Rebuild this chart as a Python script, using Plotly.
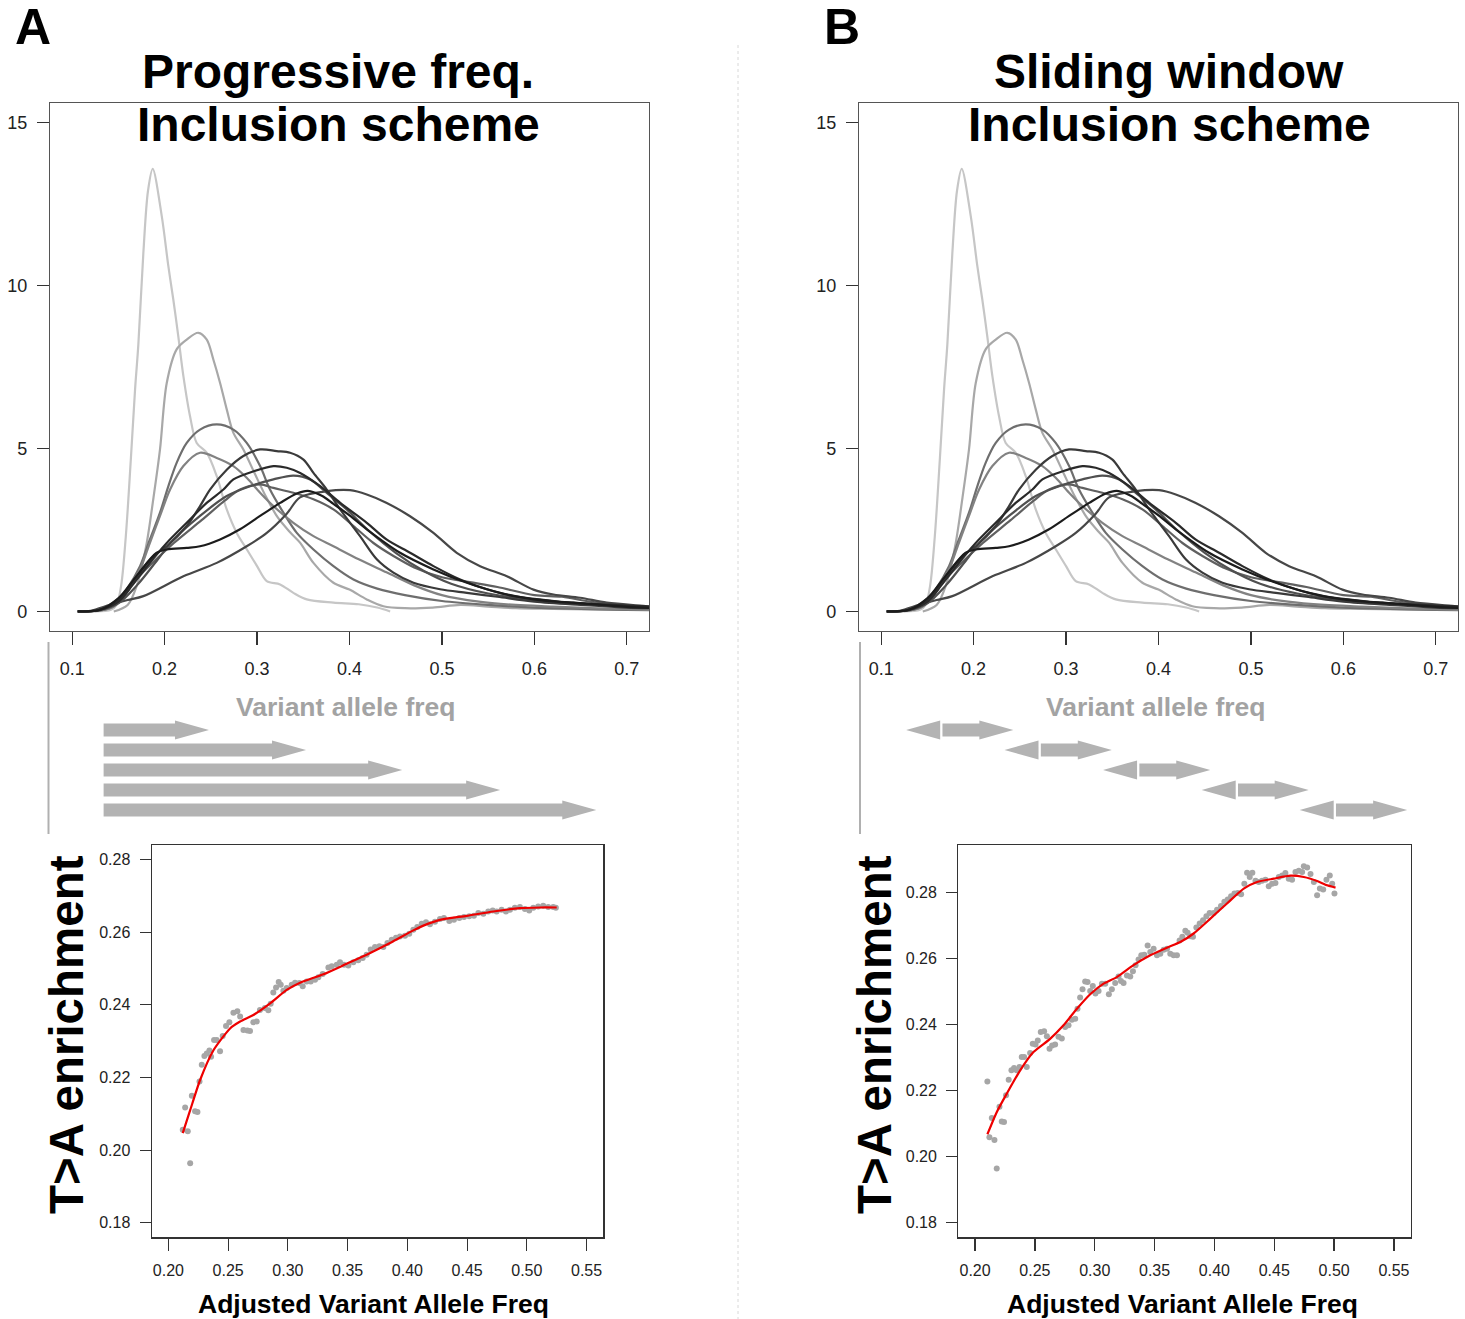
import plotly.graph_objects as go

W, H = 1465, 1319
FONT = "Liberation Sans, Arial, Helvetica, sans-serif"


def px(x):
    return x / W


def py(y):
    return 1 - y / H


# ---------------- density curves (Variant allele freq) ----------------
c1_x = [0.125, 0.142, 0.148, 0.153, 0.158, 0.1633, 0.168, 0.1716, 0.177, 0.182, 0.1871, 0.1969, 0.204, 0.2094,
        0.2148, 0.2203, 0.2275, 0.2347, 0.2455, 0.2564, 0.2672, 0.278, 0.289, 0.30, 0.3105, 0.3249, 0.3393,
        0.3538, 0.3826, 0.41, 0.43, 0.444]
c1_y = [0.0, 0.05, 0.2, 0.8, 2.3, 4.6, 6.8, 8.2, 11.0, 12.9, 13.58, 12.13, 10.6, 9.57,
        8.44, 7.22, 5.99, 5.17, 4.87, 4.15, 3.13, 2.41, 1.9, 1.39, 0.93, 0.83, 0.57,
        0.37, 0.27, 0.22, 0.12, 0.0]

c2_x = [0.145, 0.16, 0.17, 0.18, 0.188, 0.195, 0.2023, 0.213, 0.2239, 0.2365, 0.2456, 0.2527, 0.26, 0.2672,
        0.2744, 0.2852, 0.298, 0.31, 0.322, 0.335, 0.3465, 0.361, 0.3826, 0.40, 0.4187, 0.4367, 0.46, 0.49,
        0.52, 0.55, 0.58, 0.62, 0.66, 0.70, 0.724]
c2_y = [0.0, 0.2, 0.8, 2.0, 3.5, 4.97, 7.01, 8.04, 8.34, 8.55, 8.34, 7.73, 7.01, 6.2,
        5.48, 4.97, 4.2, 3.5, 2.9, 2.45, 2.11, 1.49, 0.88, 0.67, 0.37, 0.16, 0.1, 0.12,
        0.2, 0.15, 0.1, 0.08, 0.06, 0.05, 0.05]

c3_x = [0.11, 0.13, 0.1445, 0.159, 0.1734, 0.184, 0.195, 0.204, 0.213, 0.2239, 0.2383, 0.2564, 0.2744, 0.2888,
        0.3033, 0.314, 0.3285, 0.343, 0.361, 0.3826, 0.4043, 0.43, 0.46, 0.50, 0.55, 0.60, 0.65, 0.70, 0.724]
c3_y = [0.0, 0.03, 0.16, 0.68, 1.39, 2.2, 3.03, 3.84, 4.56, 5.17, 5.58, 5.74, 5.58, 5.17,
        4.46, 3.74, 3.03, 2.41, 1.9, 1.39, 0.98, 0.7, 0.5, 0.32, 0.2, 0.12, 0.08, 0.05, 0.04]

c4_x = [0.11, 0.13, 0.145, 0.159, 0.1734, 0.184, 0.195, 0.2059, 0.2203, 0.2383, 0.2564, 0.2744, 0.2888, 0.3033,
        0.3177, 0.3393, 0.361, 0.3826, 0.41, 0.44, 0.47, 0.50, 0.54, 0.58, 0.62, 0.66, 0.70, 0.724]
c4_y = [0.0, 0.03, 0.15, 0.57, 1.29, 2.1, 2.93, 3.74, 4.46, 4.87, 4.71, 4.46, 4.1, 3.64,
        3.23, 2.72, 2.31, 2.0, 1.6, 1.2, 0.8, 0.5, 0.3, 0.2, 0.15, 0.1, 0.07, 0.05]

c5_x = [0.106, 0.13, 0.15, 0.165, 0.18, 0.19, 0.2023, 0.2239, 0.2383, 0.2491, 0.2672, 0.2852, 0.3033, 0.3213,
        0.3357, 0.3502, 0.361, 0.3754, 0.3899, 0.4114, 0.4295, 0.4475, 0.4692, 0.498, 0.527, 0.56, 0.60,
        0.65, 0.70, 0.724]
c5_y = [0.0, 0.05, 0.35, 0.9, 1.45, 1.75, 2.0, 2.62, 3.23, 3.74, 4.35, 4.77, 4.97, 4.92,
        4.87, 4.66, 4.25, 3.74, 3.13, 2.31, 1.6, 1.19, 0.88, 0.68, 0.57, 0.45, 0.3,
        0.2, 0.12, 0.1]

c6_x = [0.106, 0.13, 0.15, 0.165, 0.18, 0.2023, 0.2239, 0.2455, 0.2636, 0.2744, 0.2961, 0.3177, 0.3321, 0.3466,
        0.368, 0.39, 0.4187, 0.44, 0.4655, 0.4908, 0.5197, 0.5485, 0.5774, 0.606, 0.635, 0.671, 0.70, 0.724]
c6_y = [0.0, 0.05, 0.3, 0.8, 1.35, 2.1, 2.72, 3.33, 3.74, 4.05, 4.3, 4.46, 4.41, 4.25,
        3.85, 3.33, 2.72, 2.21, 1.8, 1.39, 0.98, 0.68, 0.47, 0.37, 0.27, 0.22, 0.18, 0.16]

c7_x = [0.106, 0.13, 0.15, 0.17, 0.19, 0.2095, 0.2383, 0.2672, 0.2924, 0.3177, 0.3393, 0.3574, 0.3754, 0.397,
        0.42, 0.45, 0.48, 0.51, 0.55, 0.60, 0.65, 0.70, 0.724]
c7_y = [0.0, 0.04, 0.25, 0.8, 1.5, 2.2, 2.93, 3.54, 3.84, 4.05, 4.17, 4.05, 3.64, 3.13,
        2.5, 1.8, 1.25, 0.85, 0.55, 0.35, 0.25, 0.15, 0.12]

c8_x = [0.106, 0.13, 0.15, 0.17, 0.1914, 0.2023, 0.2239, 0.2383, 0.26, 0.2816, 0.3033, 0.325, 0.343, 0.355,
        0.37, 0.3826, 0.40, 0.4187, 0.4547, 0.4908, 0.527, 0.563, 0.599, 0.6423, 0.70, 0.724]
c8_y = [0.0, 0.05, 0.4, 1.1, 1.8, 1.9, 1.95, 2.0, 2.21, 2.52, 2.93, 3.33, 3.62, 3.7,
        3.55, 3.3, 2.95, 2.52, 1.8, 1.29, 0.88, 0.57, 0.37, 0.27, 0.14, 0.11]

c9_x = [0.106, 0.12, 0.141, 0.16, 0.177, 0.2203, 0.2564, 0.2888, 0.3105, 0.3321, 0.3465, 0.3754, 0.4006, 0.4187,
        0.4403, 0.4655, 0.4908, 0.516, 0.5413, 0.5702, 0.599, 0.6207, 0.6495, 0.6784, 0.7217, 0.724]
c9_y = [0.0, 0.02, 0.2, 0.35, 0.47, 1.08, 1.49, 2.0, 2.41, 3.0, 3.5, 3.69, 3.72, 3.59,
        3.33, 2.92, 2.41, 1.8, 1.39, 1.08, 0.67, 0.52, 0.42, 0.27, 0.16, 0.15]

c10_x = [0.106, 0.13, 0.15, 0.18, 0.21, 0.24, 0.265, 0.2816, 0.3033, 0.3177, 0.3393, 0.361, 0.3826, 0.4043,
         0.4259, 0.4476, 0.47, 0.50, 0.53, 0.56, 0.60, 0.63, 0.66, 0.70, 0.724]
c10_y = [0.0, 0.05, 0.4, 1.3, 2.1, 2.8, 3.4, 3.74, 3.9, 3.79, 3.64, 3.44, 3.13, 2.62,
         2.1, 1.7, 1.35, 1.05, 0.9, 0.75, 0.5, 0.45, 0.3, 0.15, 0.12]

curve_xs = [c1_x, c2_x, c3_x, c4_x, c10_x, c9_x, c7_x, c5_x, c6_x, c8_x]
curve_ys = [c1_y, c2_y, c3_y, c4_y, c10_y, c9_y, c7_y, c5_y, c6_y, c8_y]
curve_colors = ["#c6c6c6", "#a8a8a8", "#6e6e6e", "#828282", "#606060", "#474747", "#505050", "#3a3a3a",
                "#2a2a2a", "#1c1c1c"]

dens_xticks = [0.1, 0.2, 0.3, 0.4, 0.5, 0.6, 0.7]
dens_xlabels = ["0.1", "0.2", "0.3", "0.4", "0.5", "0.6", "0.7"]
dens_yticks = [0, 5, 10, 15]
dens_xrange = [0.076, 0.724]
dens_yrange = [-0.6, 15.6]

# ---------------- arrows (inclusion schemes) ----------------
arrow_rows = [1, 2, 3, 4, 5]
prog_start = 0.134
prog_end = [0.248, 0.353, 0.457, 0.563, 0.667]
win_lo = [0.127, 0.2334, 0.340, 0.4467, 0.5527]
win_hi = [0.243, 0.3495, 0.456, 0.5625, 0.669]

# ---------------- T>A enrichment scatter ----------------
a_x = [0.2120, 0.2162, 0.2140, 0.2182, 0.2196, 0.2223, 0.2243, 0.2260, 0.2279, 0.2301, 0.2321, 0.2343, 0.2357,
       0.2382, 0.2404, 0.2432, 0.2454, 0.2482, 0.2510, 0.2544, 0.2577, 0.2600, 0.2628, 0.2661, 0.2683, 0.2711,
       0.2739, 0.2766, 0.2808, 0.2836, 0.2856, 0.2878, 0.2901, 0.2923, 0.2940, 0.2962, 0.2990, 0.3032, 0.3060,
       0.3096, 0.3124, 0.3158, 0.3191, 0.3227, 0.3255, 0.3291, 0.3339, 0.3367, 0.3409, 0.3436, 0.3470, 0.3506,
       0.3548, 0.3589, 0.3626, 0.3659, 0.3693, 0.3729, 0.3766, 0.3799, 0.3833, 0.3869, 0.3905, 0.3938, 0.3980,
       0.4016, 0.4050, 0.4083, 0.4120, 0.4156, 0.4189, 0.4231, 0.4273, 0.4306, 0.4351, 0.4390, 0.4435, 0.4474,
       0.4518, 0.4557, 0.4594, 0.4636, 0.4677, 0.4714, 0.4747, 0.4789, 0.4825, 0.4859, 0.4900, 0.4942, 0.4984,
       0.5020, 0.5054, 0.5095, 0.5137, 0.5179, 0.5221, 0.5243]
a_y = [0.2056, 0.2052, 0.2117, 0.1964, 0.2150, 0.2107, 0.2105, 0.2189, 0.2235, 0.2259, 0.2266, 0.2274, 0.2257,
       0.2303, 0.2303, 0.2272, 0.2314, 0.2342, 0.2352, 0.2378, 0.2382, 0.2368, 0.2331, 0.2329, 0.2328, 0.2352,
       0.2354, 0.2386, 0.2391, 0.2385, 0.2403, 0.2434, 0.2448, 0.2463, 0.2455, 0.2439, 0.2446, 0.2455, 0.2461,
       0.2460, 0.2451, 0.2464, 0.2464, 0.2469, 0.2476, 0.2485, 0.2503, 0.2506, 0.2510, 0.2517, 0.2510, 0.2508,
       0.2517, 0.2523, 0.2529, 0.2538, 0.2552, 0.2559, 0.2561, 0.2559, 0.2570, 0.2579, 0.2585, 0.2588, 0.2590,
       0.2596, 0.2607, 0.2614, 0.2623, 0.2627, 0.2622, 0.2629, 0.2636, 0.2639, 0.2631, 0.2634, 0.2639, 0.2642,
       0.2644, 0.2645, 0.2653, 0.2651, 0.2657, 0.2660, 0.2657, 0.2662, 0.2657, 0.2662, 0.2667, 0.2669, 0.2664,
       0.2660, 0.2667, 0.2671, 0.2673, 0.2669, 0.2669, 0.2667]
a_fit_x = [0.2120, 0.2182, 0.2265, 0.2377, 0.2516, 0.2600, 0.2711, 0.2851, 0.2990, 0.3102, 0.3297, 0.3492,
           0.3659, 0.3855, 0.4050, 0.4134, 0.4273, 0.4496, 0.4719, 0.4942, 0.5110, 0.5250]
a_fit_y = [0.2047, 0.2110, 0.2193, 0.2275, 0.2335, 0.2354, 0.2372, 0.2404, 0.2441, 0.2461, 0.2484, 0.2513,
           0.2538, 0.2570, 0.2605, 0.2618, 0.2634, 0.2645, 0.2657, 0.2666, 0.2668, 0.2668]

b_x = [0.2103, 0.2120, 0.2140, 0.2162, 0.2181, 0.2204, 0.2223, 0.2242, 0.2259, 0.2281, 0.2304, 0.2326, 0.2348,
       0.2371, 0.2390, 0.2410, 0.2432, 0.2460, 0.2482, 0.2505, 0.2524, 0.2549, 0.2577, 0.2600, 0.2622, 0.2644,
       0.2669, 0.2697, 0.2725, 0.2753, 0.2781, 0.2809, 0.2837, 0.2856, 0.2878, 0.2898, 0.2920, 0.2940, 0.2962,
       0.2984, 0.3006, 0.3032, 0.3060, 0.3088, 0.3118, 0.3143, 0.3171, 0.3199, 0.3219, 0.3241, 0.3269, 0.3297,
       0.3319, 0.3341, 0.3366, 0.3389, 0.3414, 0.3442, 0.3464, 0.3492, 0.3520, 0.3548, 0.3576, 0.3604, 0.3631,
       0.3659, 0.3687, 0.3709, 0.3732, 0.3757, 0.3776, 0.3799, 0.3821, 0.3849, 0.3877, 0.3905, 0.3933, 0.3960,
       0.3994, 0.4022, 0.4055, 0.4083, 0.4111, 0.4139, 0.4167, 0.4195, 0.4223, 0.4250, 0.4273, 0.4295, 0.4317,
       0.4343, 0.4370, 0.4398, 0.4426, 0.4454, 0.4482, 0.4510, 0.4538, 0.4566, 0.4593, 0.4621, 0.4649, 0.4677,
       0.4705, 0.4733, 0.4747, 0.4775, 0.4803, 0.4831, 0.4858, 0.4881, 0.4909, 0.4936, 0.4964, 0.4984, 0.5003]
b_y = [0.2228, 0.2059, 0.2117, 0.2051, 0.1964, 0.2151, 0.2107, 0.2105, 0.2186, 0.2233, 0.2262, 0.2269, 0.2262,
       0.2272, 0.2302, 0.2302, 0.2272, 0.2314, 0.2342, 0.2340, 0.2352, 0.2378, 0.2380, 0.2365, 0.2327, 0.2337,
       0.2340, 0.2363, 0.2358, 0.2393, 0.2398, 0.2415, 0.2418, 0.2448, 0.2482, 0.2507, 0.2531, 0.2529, 0.2502,
       0.2517, 0.2494, 0.2502, 0.2524, 0.2524, 0.2492, 0.2507, 0.2526, 0.2546, 0.2532, 0.2526, 0.2549, 0.2546,
       0.2562, 0.2580, 0.2597, 0.2610, 0.2612, 0.2640, 0.2620, 0.2630, 0.2610, 0.2615, 0.2627, 0.2630, 0.2615,
       0.2610, 0.2610, 0.2655, 0.2666, 0.2684, 0.2678, 0.2668, 0.2666, 0.2694, 0.2706, 0.2716, 0.2728, 0.2738,
       0.2738, 0.2748, 0.2759, 0.2772, 0.2779, 0.2789, 0.2797, 0.2799, 0.2795, 0.2827, 0.2860, 0.2847, 0.2860,
       0.2836, 0.2832, 0.2836, 0.2839, 0.2819, 0.2827, 0.2829, 0.2847, 0.2852, 0.2859, 0.2842, 0.2839, 0.2862,
       0.2866, 0.2862, 0.2880, 0.2876, 0.2856, 0.2832, 0.2792, 0.2812, 0.2809, 0.2839, 0.2852, 0.2827, 0.2797]
b_fit_x = [0.2103, 0.2181, 0.2265, 0.2376, 0.2488, 0.2627, 0.2739, 0.2851, 0.2962, 0.3074, 0.3185, 0.3324,
           0.3464, 0.3603, 0.3715, 0.3826, 0.3966, 0.4105, 0.4245, 0.4356, 0.4496, 0.4635, 0.4747, 0.4858,
           0.4942, 0.5012]
b_fit_y = [0.2068, 0.2135, 0.2191, 0.2261, 0.2317, 0.2357, 0.2398, 0.2448, 0.2492, 0.2524, 0.2544, 0.2580,
           0.2610, 0.2633, 0.2650, 0.2676, 0.2721, 0.2767, 0.2812, 0.2832, 0.2842, 0.2851, 0.2847, 0.2835,
           0.2822, 0.2815]

sc_xticks = [0.20, 0.25, 0.30, 0.35, 0.40, 0.45, 0.50, 0.55]
sc_xlabels = ["0.20", "0.25", "0.30", "0.35", "0.40", "0.45", "0.50", "0.55"]
sc_yticks = [0.18, 0.20, 0.22, 0.24, 0.26, 0.28]
sc_ylabels = ["0.18", "0.20", "0.22", "0.24", "0.26", "0.28"]
sc_xrange = [0.186, 0.564]
a_yrange = [0.176, 0.284]
b_yrange = [0.1756, 0.2944]

# ================= figure =================
fig = go.Figure()

for xa, ya in (("x", "y"), ("x2", "y2")):
    for cx, cy, col in zip(curve_xs, curve_ys, curve_colors):
        fig.add_trace(go.Scatter(x=cx, y=cy, mode="lines", xaxis=xa, yaxis=ya,
                                 line=dict(color=col, width=2.2, shape="spline", smoothing=0.9),
                                 showlegend=False, hoverinfo="skip"))

# arrows
ARROW_COL = "#b3b3b3"
HEAD = 0.0368
BODY_H = 0.33
HEAD_H = 0.48


def right_arrow(x0, x1, r):
    xb = x1 - HEAD
    xs = [x0, xb, xb, x1, xb, xb, x0, x0]
    ys = [r - BODY_H, r - BODY_H, r - HEAD_H, r, r + HEAD_H, r + BODY_H, r + BODY_H, r - BODY_H]
    return xs, ys


def left_head(x0, r):
    xb = x0 + HEAD
    return [x0, xb, xb, x0], [r, r - HEAD_H, r + HEAD_H, r]


for r, xe in zip(arrow_rows, prog_end):
    xs, ys = right_arrow(prog_start, xe, r)
    fig.add_trace(go.Scatter(x=xs, y=ys, mode="lines", fill="toself", fillcolor=ARROW_COL,
                             line=dict(width=0, color=ARROW_COL), xaxis="x5", yaxis="y5",
                             showlegend=False, hoverinfo="skip"))

for r, lo, hi in zip(arrow_rows, win_lo, win_hi):
    xs, ys = left_head(lo, r)
    fig.add_trace(go.Scatter(x=xs, y=ys, mode="lines", fill="toself", fillcolor=ARROW_COL,
                             line=dict(width=0, color=ARROW_COL), xaxis="x6", yaxis="y6",
                             showlegend=False, hoverinfo="skip"))
    xs, ys = right_arrow(lo + HEAD + 0.0025, hi, r)
    fig.add_trace(go.Scatter(x=xs, y=ys, mode="lines", fill="toself", fillcolor=ARROW_COL,
                             line=dict(width=0, color=ARROW_COL), xaxis="x6", yaxis="y6",
                             showlegend=False, hoverinfo="skip"))

# scatter panels
for xa, ya, sx, sy, fx, fy in (("x3", "y3", a_x, a_y, a_fit_x, a_fit_y),
                               ("x4", "y4", b_x, b_y, b_fit_x, b_fit_y)):
    fig.add_trace(go.Scatter(x=sx, y=sy, mode="markers", xaxis=xa, yaxis=ya,
                             marker=dict(color="#a6a6a6", size=6, line=dict(width=0)),
                             showlegend=False, hoverinfo="skip"))
    fig.add_trace(go.Scatter(x=fx, y=fy, mode="lines", xaxis=xa, yaxis=ya,
                             line=dict(color="#ee0000", width=2.2, shape="spline", smoothing=0.6),
                             showlegend=False, hoverinfo="skip"))

# ---------------- axes ----------------
dens_x_common = dict(range=dens_xrange, tickvals=dens_xticks, ticktext=dens_xlabels, ticks="outside",
                     ticklen=13, tickwidth=1.2, tickcolor="#333", showline=True, linecolor="#555",
                     linewidth=1.2, mirror=True, showgrid=False, zeroline=False,
                     tickfont=dict(family=FONT, size=18, color="#222"), ticklabelstandoff=8)
dens_y_common = dict(range=dens_yrange, tickvals=dens_yticks, ticks="outside", ticklen=12, tickwidth=1.2,
                     tickcolor="#333", showline=True, linecolor="#555", linewidth=1.2, mirror=True,
                     showgrid=False, zeroline=False, tickfont=dict(family=FONT, size=18, color="#222"),
                     ticklabelstandoff=6)
sc_x_common = dict(range=sc_xrange, tickvals=sc_xticks, ticktext=sc_xlabels, ticks="outside", ticklen=12,
                   tickwidth=1.2, tickcolor="#333", showline=True, linecolor="#333", linewidth=1.2,
                   mirror=True, showgrid=False, zeroline=False,
                   tickfont=dict(family=FONT, size=16, color="#222"), ticklabelstandoff=6)
sc_y_common = dict(tickvals=sc_yticks, ticktext=sc_ylabels, ticks="outside", ticklen=11, tickwidth=1.2,
                   tickcolor="#333", showline=True, linecolor="#333", linewidth=1.2, mirror=True,
                   showgrid=False, zeroline=False, tickfont=dict(family=FONT, size=16, color="#222"),
                   ticklabelstandoff=6)
hidden = dict(visible=False, showgrid=False, zeroline=False)

top_y = [py(631), py(103)]
bot_y = [py(1237.3), py(845)]
arr_y = [py(840), py(640)]

fig.update_layout(
    width=W, height=H, margin=dict(l=0, r=0, t=0, b=0),
    paper_bgcolor="white", plot_bgcolor="white",
    font=dict(family=FONT, color="#222"),
    xaxis=dict(domain=[px(50), px(649)], anchor="y", **dens_x_common),
    yaxis=dict(domain=top_y, anchor="x", **dens_y_common),
    xaxis2=dict(domain=[px(859), px(1458)], anchor="y2", **dens_x_common),
    yaxis2=dict(domain=top_y, anchor="x2", **dens_y_common),
    xaxis3=dict(domain=[px(151.7), px(603.3)], anchor="y3", **sc_x_common),
    yaxis3=dict(domain=bot_y, anchor="x3", range=a_yrange, **sc_y_common),
    xaxis4=dict(domain=[px(958.3), px(1410.7)], anchor="y4", **sc_x_common),
    yaxis4=dict(domain=bot_y, anchor="x4", range=b_yrange, **sc_y_common),
    xaxis5=dict(domain=[px(50), px(649)], anchor="y5", range=dens_xrange, **hidden),
    yaxis5=dict(domain=arr_y, anchor="x5", range=[6.5, -3.5], **hidden),
    xaxis6=dict(domain=[px(859), px(1458)], anchor="y6", range=dens_xrange, **hidden),
    yaxis6=dict(domain=arr_y, anchor="x6", range=[6.5, -3.5], **hidden),
)

# ---------------- shapes ----------------
shapes = [
    dict(type="line", xref="paper", yref="paper", x0=px(738), x1=px(738), y0=py(45), y1=py(1319),
         line=dict(color="#d8d8d8", width=1, dash="dot")),
    dict(type="line", xref="paper", yref="paper", x0=px(48.5), x1=px(48.5), y0=py(642), y1=py(834),
         line=dict(color="#b0b0b0", width=2)),
    dict(type="line", xref="paper", yref="paper", x0=px(860), x1=px(860), y0=py(642), y1=py(834),
         line=dict(color="#b0b0b0", width=2)),
]
fig.update_layout(shapes=shapes)


# ---------------- text ----------------
def ann(text, x, y, size, color="#000", bold=True, angle=0):
    return dict(text=f"<b>{text}</b>" if bold else text, x=px(x), y=py(y), xref="paper", yref="paper",
                showarrow=False, xanchor="center", yanchor="middle", textangle=angle,
                font=dict(family=FONT, size=size, color=color))


annotations = [
    ann("A", 33, 27, 50),
    ann("B", 842, 27, 50),
    ann("Progressive freq.", 338, 71, 48),
    ann("Inclusion scheme", 338, 124, 48),
    ann("Sliding window", 1169, 71, 48),
    ann("Inclusion scheme", 1169, 124, 48),
    ann("Variant allele freq", 345, 707, 26.5, color="#a3a3a3"),
    ann("Variant allele freq", 1155, 707, 26.5, color="#a3a3a3"),
    ann("T&gt;A enrichment", 66, 1035, 47.5, angle=-90),
    ann("T&gt;A enrichment", 874, 1035, 47.5, angle=-90),
    ann("Adjusted Variant Allele Freq", 373, 1304, 26.5),
    ann("Adjusted Variant Allele Freq", 1182, 1304, 26.5),
]
fig.update_layout(annotations=annotations)

fig.write_html("out.html", config={"displayModeBar": False, "staticPlot": True},
               post_script="document.body.style.margin='0';document.body.style.overflow='hidden';")
